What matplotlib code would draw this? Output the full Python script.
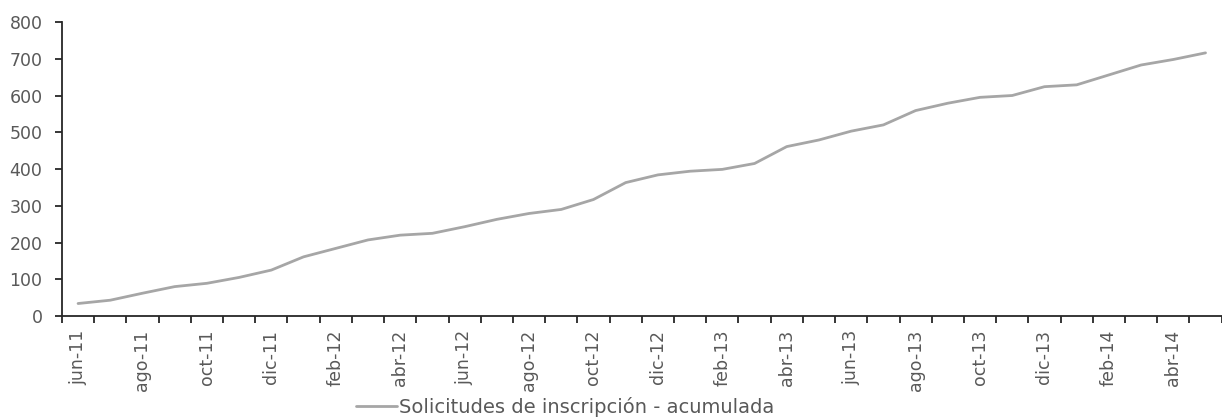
import numpy as np
import matplotlib.pyplot as plt

months = ['jun-11', 'jul-11', 'ago-11', 'sep-11', 'oct-11', 'nov-11', 'dic-11', 'ene-12',
          'feb-12', 'mar-12', 'abr-12', 'may-12', 'jun-12', 'jul-12', 'ago-12', 'sep-12',
          'oct-12', 'nov-12', 'dic-12', 'ene-13', 'feb-13', 'mar-13', 'abr-13', 'may-13',
          'jun-13', 'jul-13', 'ago-13', 'sep-13', 'oct-13', 'nov-13', 'dic-13', 'ene-14',
          'feb-14', 'mar-14', 'abr-14', 'may-14']
solicitudes = [34, 43, 62, 80, 89, 105, 125, 161, 184, 207, 220, 225,
               243, 263, 279, 290, 317, 363, 384, 394, 399, 415, 461, 479,
               503, 520, 559, 579, 595, 600, 624, 629, 656, 683, 698, 716]
serie = 'Solicitudes de inscripción - acumulada'

plt.rcParams['font.family'] = ['DejaVu Sans']
txt = '#595959'
fs = 12.5

fig = plt.figure(figsize=(12.22, 4.19), dpi=100)
ax = fig.add_axes([0.0507, 0.2458, 0.949, 0.7017])

x = np.arange(len(months))
ax.plot(x, solicitudes, color='#a6a6a6', lw=2, solid_capstyle='round', label=serie)

ax.set_xlim(-0.5, len(months) - 0.5)
ax.set_ylim(0, 800)
ax.set_yticks(range(0, 801, 100))

# ticks on the category boundaries, labels every second month
ax.set_xticks(np.arange(-0.5, len(months), 1))
ax.set_xticklabels([])
ax.set_xticks(x[::2], minor=True)
ax.set_xticklabels(months[::2], minor=True, rotation=90)
ax.tick_params(axis='x', which='minor', length=0, pad=10, labelsize=fs, labelcolor=txt)
ax.tick_params(axis='x', which='major', length=5, width=1.3, color='#262626')
ax.tick_params(axis='y', length=5, width=1.3, color='#262626', labelsize=fs,
               labelcolor=txt, pad=9)

for s in ['top', 'right']:
    ax.spines[s].set_visible(False)
for s in ['left', 'bottom']:
    ax.spines[s].set_color('#262626')
    ax.spines[s].set_linewidth(1.3)

fig.legend(loc='lower center', bbox_to_anchor=(0.4624, -0.036), frameon=False,
           fontsize=14, labelcolor=txt, handlelength=2.1, handletextpad=0.1)

fig.savefig('out.png', dpi=100)
